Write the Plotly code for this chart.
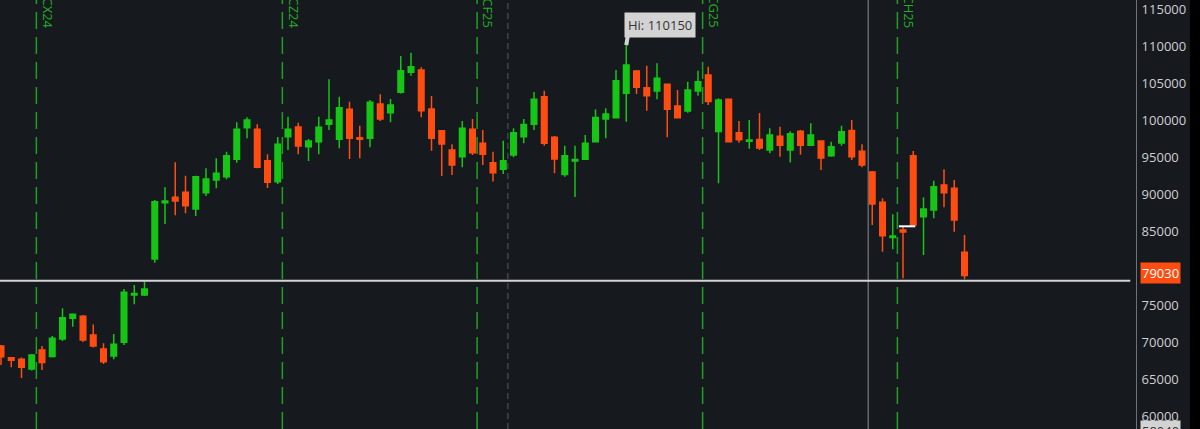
import plotly.graph_objects as go

# ---------------- data ----------------
opens = [69500, 67920, 67700, 66390, 68960, 68080, 70440, 73240, 73510, 70990,
         69090, 68150, 70000, 76390, 76390, 81260, 88860, 89590, 90270, 88010,
         90220, 91930, 92380, 94730, 99000, 98780, 94540, 91700, 97780, 99090,
         96430, 97110, 99460, 97430, 101490, 97650, 97570, 102200, 101030, 103780,
         106490, 106800, 101530, 98590, 95990, 95080, 98780, 96890, 94270, 93380,
         95310, 97780, 99470, 103190, 97700, 92680, 94500, 94740, 97110, 100180,
         100350, 103650, 106660, 104410, 103960, 104860, 101930, 101260, 103960, 106120,
         98490, 102850, 98320, 97160, 97410, 95990, 97840, 95990, 98510, 96620,
         97200, 95220, 96930, 98620, 95810, 93010, 88920, 84160, 85180, 95220,
         86970, 87880, 91260, 90810, 82160]
highs = [69650, 68010, 67950, 68420, 69500, 70850, 74590, 73890, 73690, 72400,
         69860, 71120, 77200, 77740, 78190, 89230, 90950, 94320, 92510, 92510,
         93510, 94860, 95760, 99730, 100410, 99460, 95410, 97740, 100490, 99680,
         97470, 100490, 105540, 103190, 102510, 99270, 102740, 103510, 102880, 108690,
         109140, 107160, 103280, 98690, 96760, 99910, 100180, 98690, 95760, 97240,
         98920, 100180, 103820, 104000, 97880, 96570, 96550, 98010, 101490, 101620,
         106800, 110150, 106800, 107380, 107700, 104970, 104090, 105220, 106700, 107240,
         102970, 102920, 99910, 100040, 100990, 98920, 99140, 98510, 98690, 99590,
         97270, 97110, 99270, 100040, 96760, 93150, 89460, 87300, 85620, 95850,
         89590, 91840, 93380, 91930, 84500]
lows = [66930, 66620, 65180, 66190, 66260, 67950, 70170, 72110, 70040, 69300,
        67070, 67700, 69630, 75130, 76260, 80760, 85990, 87160, 87430, 87070,
        89770, 90810, 92030, 94270, 97570, 93510, 90850, 91390, 95990, 95410,
        94500, 95410, 98690, 96220, 94770, 94860, 96350, 99910, 99730, 103620,
        106030, 100410, 95890, 92470, 92610, 93650, 95310, 93960, 91730, 92740,
        95000, 96890, 98690, 96570, 92840, 92380, 89630, 94640, 97000, 97570,
        100240, 99810, 103550, 101300, 102840, 97700, 100240, 101030, 103320, 102070,
        91490, 97070, 96970, 96160, 95990, 95540, 95080, 94300, 95350, 96530,
        93280, 95080, 96570, 94640, 93650, 85850, 82240, 82570, 78650, 85720,
        81800, 86760, 88240, 84950, 78510]
closes = [68050, 67570, 66620, 68280, 67270, 70540, 73320, 73780, 70310, 69500,
          67380, 69730, 76760, 76590, 77200, 89000, 89090, 89090, 88460, 92380,
          92070, 92840, 95220, 98780, 100040, 93650, 91620, 96770, 98780, 96530,
          97200, 99050, 100040, 101700, 97570, 97430, 102430, 100180, 102070, 106700,
          107240, 101300, 97570, 96800, 93960, 98920, 95620, 95410, 92920, 94540,
          98320, 99420, 102850, 96890, 94770, 95200, 94700, 96890, 100380, 100850,
          105350, 107470, 104460, 103320, 105680, 101490, 100350, 104090, 105220, 102540,
          102740, 97110, 97380, 97340, 96260, 98010, 96620, 98190, 96620, 98010,
          94910, 96430, 98460, 95080, 93960, 88690, 84410, 84370, 84910, 85850,
          88010, 91030, 90220, 86530, 79030]

bars = list(range(len(opens)))   # trading sessions, one candle each

# contract roll lines (session position, label)
roll_pos = [3.45, 27.45, 46.45, 68.45, 87.45]
roll_labels = ["/BTCX24", "/BTCZ24", "/BTCF25", "/BTCG25", "/BTCH25"]
year_sep = 49.45            # year boundary (dashed grey)
cursor_x = 84.6             # crosshair vertical
cursor_y = 78320            # crosshair horizontal
settle_price = 85675        # white settlement tick
settle_span = [87.6, 89.2]
high_label = "Hi: 110150"
high_bar = 61
high_value = 110150
last_price = 79030
low_value = 58040

y_ticks = list(range(60000, 115001, 5000))

# ---------------- styles ----------------
BG = "#161a1f"
GREEN = "#16c516"
RED = "#ff4d12"
LINE_GREEN = "#1f9f1f"
TICK_COLOR = "#cfcfcf"
FONT = "Open Sans"

fig = go.Figure()
fig.add_trace(go.Candlestick(
    x=bars, open=opens, high=highs, low=lows, close=closes,
    increasing=dict(line=dict(color=GREEN, width=1.5), fillcolor=GREEN),
    decreasing=dict(line=dict(color=RED, width=1.5), fillcolor=RED),
    whiskerwidth=0, showlegend=False, hoverinfo="skip",
))

shapes = []
for p in roll_pos:
    shapes.append(dict(type="line", xref="x", yref="paper", x0=p, x1=p, y0=0, y1=1,
                       line=dict(color=LINE_GREEN, width=1.5, dash="17px,8px"), layer="below"))
shapes.append(dict(type="line", xref="x", yref="paper", x0=year_sep, x1=year_sep, y0=0, y1=1,
                   line=dict(color="#4b5056", width=1.2, dash="6px,4px"), layer="below"))
shapes.append(dict(type="line", xref="x", yref="paper", x0=cursor_x, x1=cursor_x, y0=0, y1=1,
                   line=dict(color="#8a8d91", width=1), layer="below"))
shapes.append(dict(type="line", xref="paper", yref="y", x0=0, x1=0.995, y0=cursor_y, y1=cursor_y,
                   line=dict(color="#d4d4d4", width=2)))
shapes.append(dict(type="line", xref="x", yref="y", x0=settle_span[0], x1=settle_span[1],
                   y0=settle_price, y1=settle_price, line=dict(color="#ffffff", width=2)))
# dark strip at the far right edge
shapes.append(dict(type="rect", xref="paper", yref="paper", x0=1.0475, x1=1.07, y0=0, y1=1,
                   fillcolor="#000000", line=dict(width=0), layer="above"))

annotations = []
for p, lab in zip(roll_pos, roll_labels):
    annotations.append(dict(x=p, y=1 - 30 / 429, xref="x", yref="paper", text=lab,
                            textangle=90, showarrow=False, xanchor="left", yanchor="bottom",
                            xshift=0, font=dict(family=FONT, size=13, color="#22b022")))
# high bubble
annotations.append(dict(x=high_bar, y=high_value, xref="x", yref="y", text="",
                        showarrow=True, arrowhead=0, arrowwidth=4, arrowcolor="#d3d3d3",
                        ax=2, ay=-12, standoff=0))
annotations.append(dict(x=high_bar, y=high_value, xref="x", yref="y", text=high_label,
                        showarrow=False, xshift=34, yshift=20, bgcolor="#d3d3d3",
                        borderpad=3, font=dict(family=FONT, size=13, color="#333333")))
# last price label
annotations.append(dict(x=1, y=last_price, xref="paper", yref="y", text=str(last_price),
                        showarrow=False, xanchor="left", xshift=4, yshift=2, bgcolor=RED,
                        borderpad=1, font=dict(family=FONT, size=13, color="#ffffff")))
# low label at the bottom edge (its value sits just below the visible range)
annotations.append(dict(x=1, y=0, xref="paper", yref="paper", text=str(low_value),
                        showarrow=False, xanchor="left", yanchor="middle", xshift=4, yshift=-2,
                        bgcolor="#d3d3d3", borderpad=1,
                        font=dict(family=FONT, size=13, color="#333333")))

fig.update_layout(
    width=1200, height=429,
    margin=dict(l=0, r=64, t=0, b=0),
    paper_bgcolor=BG, plot_bgcolor=BG,
    boxgap=0.46, boxgroupgap=0,
    shapes=shapes, annotations=annotations,
    font=dict(family=FONT, color=TICK_COLOR),
    xaxis=dict(range=[-0.0976, 110.73], showgrid=False, zeroline=False, showticklabels=False,
               rangeslider=dict(visible=False), fixedrange=True, showline=False),
    yaxis=dict(range=[58282, 116257], side="right", tickvals=y_ticks,
               ticktext=[str(v) for v in y_ticks], showgrid=False, zeroline=False,
               showline=True, linecolor="#6e7175", linewidth=1, ticks="",
               ticklabeloverflow="allow", fixedrange=True,
               tickfont=dict(family=FONT, size=13, color=TICK_COLOR), ticklabelstandoff=2),
)

fig.write_html("out.html", config={"displayModeBar": False},
               post_script="document.body.style.margin='0';document.body.style.background='#161a1f';")
